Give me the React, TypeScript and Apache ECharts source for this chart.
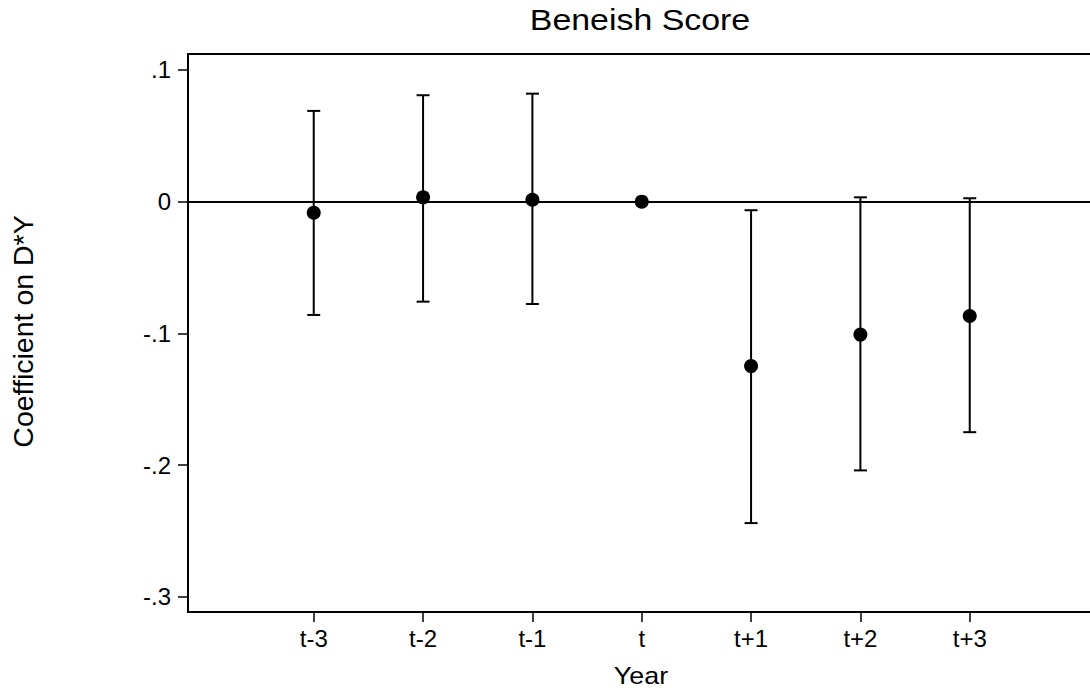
import React, { useEffect, useRef } from "react";
import * as echarts from "echarts";

const categories = ["t-3", "t-2", "t-1", "t", "t+1", "t+2", "t+3"];
const xPositions = [-3, -2, -1, 0, 1, 2, 3];
const coefficients = [-0.0084, 0.0033, 0.0015, 0.0, -0.1248, -0.1009, -0.0868];
const ciLower = [-0.086, -0.0759, -0.0777, 0.0, -0.244, -0.204, -0.175];
const ciUpper = [0.0689, 0.0808, 0.082, 0.0, -0.0065, 0.0033, 0.0026];
const yTicks = [-0.3, -0.2, -0.1, 0, 0.1];

const FONT = "'Liberation Sans', Arial, sans-serif";

function fmtY(v: number): string {
  const r = Math.round(v * 10) / 10;
  if (r === 0) return "0";
  const s = Math.abs(r).toFixed(1).replace(/^0/, "");
  return (r < 0 ? "-" : "") + s;
}

export default function App() {
  const ref = useRef<HTMLDivElement>(null);
  useEffect(() => {
    if (!ref.current) return;
    const chart = echarts.init(ref.current, undefined, { renderer: "svg" });
    const points = xPositions.map((x, i) => [x, coefficients[i]]);
    const bars = xPositions.map((x, i) => [x, ciLower[i], ciUpper[i]]);
    chart.setOption({
      animation: false,
      backgroundColor: "#ffffff",
      graphic: [
        {
          type: "text",
          x: 640,
          y: 20,
          scaleX: 1.13,
          style: {
            text: "Beneish Score",
            fontFamily: FONT,
            fontSize: 30,
            fill: "#000",
            align: "center",
            verticalAlign: "middle",
          },
        },
        {
          type: "text",
          x: 641,
          y: 676,
          scaleX: 1.12,
          style: {
            text: "Year",
            fontFamily: FONT,
            fontSize: 24,
            fill: "#000",
            align: "center",
            verticalAlign: "middle",
          },
        },
        {
          type: "text",
          x: 23,
          y: 331.5,
          rotation: Math.PI / 2,
          style: {
            text: "Coefficient on D*Y",
            fontFamily: FONT,
            fontSize: 28.5,
            fill: "#000",
            align: "center",
            verticalAlign: "middle",
          },
        },
      ],
      grid: {
        left: 188,
        top: 54,
        bottom: 81,
        right: 0,
        show: false,
        containLabel: false,
      },
      xAxis: [
        {
          type: "value",
          min: -4.15,
          max: 4.1,
          axisLine: { show: true, onZero: false, lineStyle: { color: "#000", width: 2 } },
          axisTick: { show: true, length: 10, lineStyle: { color: "#000", width: 1.5 }, customValues: xPositions },
          axisLabel: {
            show: true,
            margin: 14,
            fontFamily: FONT,
            fontSize: 24,
            color: "#000",
            customValues: xPositions,
            formatter: (v: number) => {
              const i = xPositions.indexOf(Math.round(v));
              return i >= 0 ? categories[i] : "";
            },
          },
          splitLine: { show: false },
        },
        {
          type: "value",
          position: "top",
          min: -4.15,
          max: 4.1,
          axisLine: { show: true, onZero: false, lineStyle: { color: "#000", width: 2 } },
          axisTick: { show: false },
          axisLabel: { show: false },
          splitLine: { show: false },
        },
      ],
      yAxis: {
        type: "value",
        min: -0.3115,
        max: 0.1121,
        axisLine: { show: true, onZero: false, lineStyle: { color: "#000", width: 2 } },
        axisTick: { show: true, length: 10, lineStyle: { color: "#000", width: 1.5 }, customValues: yTicks },
        axisLabel: {
          show: true,
          margin: 17,
          fontFamily: FONT,
          fontSize: 24,
          color: "#000",
          customValues: yTicks,
          formatter: (v: number) => fmtY(v),
        },
        splitLine: { show: false },
      },
      series: [
        {
          type: "custom",
          data: bars,
          z: 2,
          renderItem: (params: any, api: any) => {
            const x = api.value(0);
            const lo = api.value(1);
            const hi = api.value(2);
            if (lo === hi) return { type: "group", children: [] };
            const pLo = api.coord([x, lo]);
            const pHi = api.coord([x, hi]);
            const hw = 6.5;
            const style = { stroke: "#000", lineWidth: 2, fill: "none" };
            return {
              type: "group",
              children: [
                { type: "line", shape: { x1: pLo[0], y1: pLo[1], x2: pHi[0], y2: pHi[1] }, style },
                { type: "line", shape: { x1: pLo[0] - hw, y1: pLo[1], x2: pLo[0] + hw, y2: pLo[1] }, style },
                { type: "line", shape: { x1: pHi[0] - hw, y1: pHi[1], x2: pHi[0] + hw, y2: pHi[1] }, style },
              ],
            };
          },
        },
        {
          type: "scatter",
          data: points,
          symbol: "circle",
          symbolSize: 14,
          z: 3,
          itemStyle: { color: "#000", opacity: 1 },
          markLine: {
            silent: true,
            symbol: ["none", "none"],
            label: { show: false },
            lineStyle: { color: "#000", width: 2, type: "solid", opacity: 1 },
            data: [{ yAxis: 0 }],
          },
        },
      ],
    });
    return () => chart.dispose();
  }, []);
  return (
    <div
      ref={ref}
      style={{ position: "absolute", left: 0, top: 0, width: 1090, height: 693, background: "#fff" }}
    />
  );
}
